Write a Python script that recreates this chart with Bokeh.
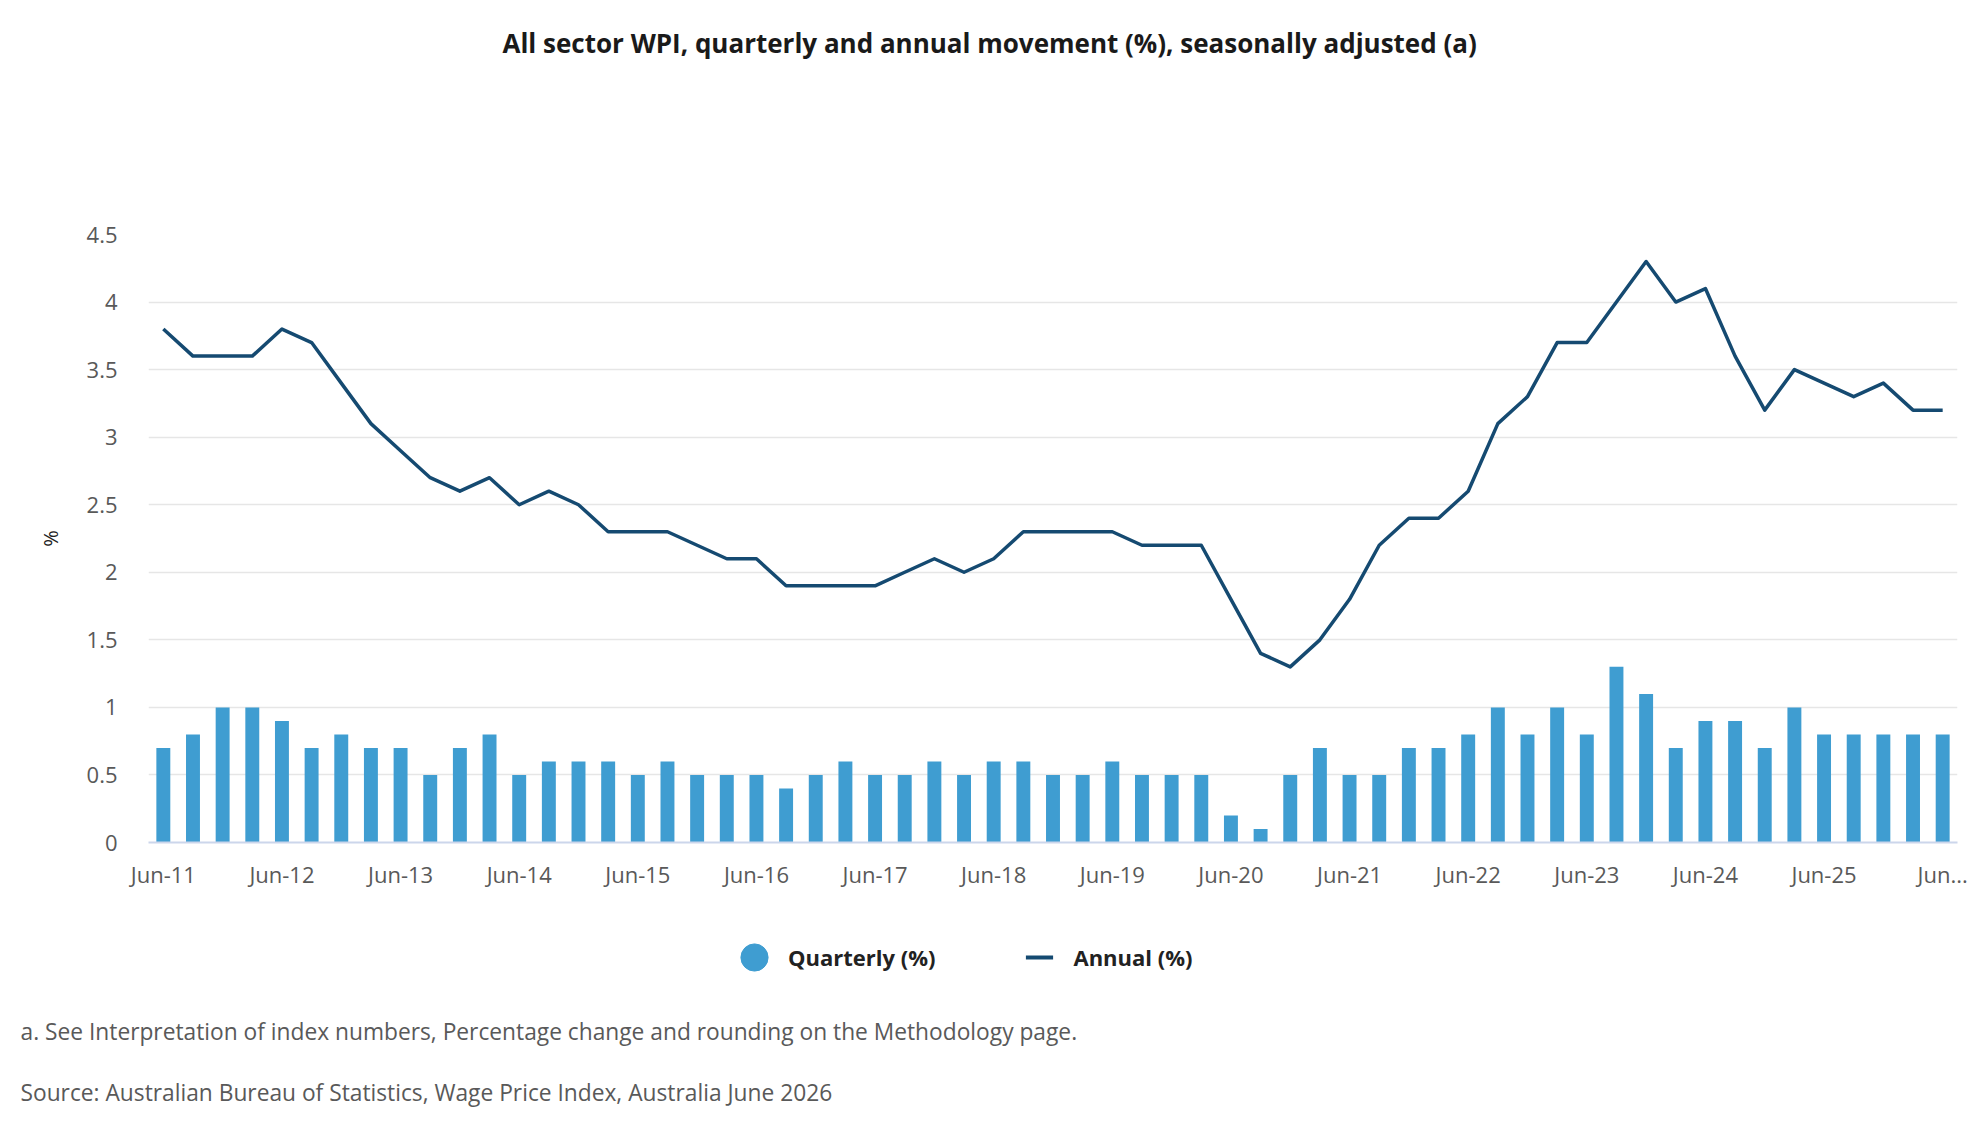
from bokeh.plotting import figure
from bokeh.layouts import column
from bokeh.models import (ColumnDataSource, FixedTicker, Legend, LegendItem, Title,
                          Range1d, NumeralTickFormatter)
from bokeh.embed import file_html
from bokeh.resources import INLINE

quarters = [
    "Jun-11", "Sep-11", "Dec-11", "Mar-12", "Jun-12", "Sep-12", "Dec-12", "Mar-13",
    "Jun-13", "Sep-13", "Dec-13", "Mar-14", "Jun-14", "Sep-14", "Dec-14", "Mar-15",
    "Jun-15", "Sep-15", "Dec-15", "Mar-16", "Jun-16", "Sep-16", "Dec-16", "Mar-17",
    "Jun-17", "Sep-17", "Dec-17", "Mar-18", "Jun-18", "Sep-18", "Dec-18", "Mar-19",
    "Jun-19", "Sep-19", "Dec-19", "Mar-20", "Jun-20", "Sep-20", "Dec-20", "Mar-21",
    "Jun-21", "Sep-21", "Dec-21", "Mar-22", "Jun-22", "Sep-22", "Dec-22", "Mar-23",
    "Jun-23", "Sep-23", "Dec-23", "Mar-24", "Jun-24", "Sep-24", "Dec-24", "Mar-25",
    "Jun-25", "Sep-25", "Dec-25", "Mar-26", "Jun-26",
]

quarterly = [
    0.7, 0.8, 1.0, 1.0, 0.9, 0.7, 0.8, 0.7,
    0.7, 0.5, 0.7, 0.8, 0.5, 0.6, 0.6, 0.6,
    0.5, 0.6, 0.5, 0.5, 0.5, 0.4, 0.5, 0.6,
    0.5, 0.5, 0.6, 0.5, 0.6, 0.6, 0.5, 0.5,
    0.6, 0.5, 0.5, 0.5, 0.2, 0.1, 0.5, 0.7,
    0.5, 0.5, 0.7, 0.7, 0.8, 1.0, 0.8, 1.0,
    0.8, 1.3, 1.1, 0.7, 0.9, 0.9, 0.7, 1.0,
    0.8, 0.8, 0.8, 0.8, 0.8,
]

annual = [
    3.8, 3.6, 3.6, 3.6, 3.8, 3.7, 3.4, 3.1,
    2.9, 2.7, 2.6, 2.7, 2.5, 2.6, 2.5, 2.3,
    2.3, 2.3, 2.2, 2.1, 2.1, 1.9, 1.9, 1.9,
    1.9, 2.0, 2.1, 2.0, 2.1, 2.3, 2.3, 2.3,
    2.3, 2.2, 2.2, 2.2, 1.8, 1.4, 1.3, 1.5,
    1.8, 2.2, 2.4, 2.4, 2.6, 3.1, 3.3, 3.7,
    3.7, 4.0, 4.3, 4.0, 4.1, 3.6, 3.2, 3.5,
    3.4, 3.3, 3.4, 3.2, 3.2,
]

tick_labels = ["Jun-11", "Jun-12", "Jun-13", "Jun-14", "Jun-15", "Jun-16", "Jun-17",
               "Jun-18", "Jun-19", "Jun-20", "Jun-21", "Jun-22", "Jun-23", "Jun-24",
               "Jun-25", "Jun..."]
y_ticks = [0, 0.5, 1, 1.5, 2, 2.5, 3, 3.5, 4, 4.5]

TITLE = "All sector WPI, quarterly and annual movement (%), seasonally adjusted (a)"
NOTE = "a. See Interpretation of index numbers, Percentage change and rounding on the Methodology page."
SOURCE = "Source: Australian Bureau of Statistics, Wage Price Index, Australia June 2026"

BAR = "#3f9dd1"
LINE = "#154a71"
FONT = "Open Sans"
GREY = "#595959"

# layout (pixels, page coordinates)
W, H = 1980, 1140
FL, FR, FT, FB = 148, 1957, 234, 842     # chart frame edges
H1 = 905                                 # height of the chart figure
H2 = H - H1                              # height of the legend / notes strip
NOTES_H = 127                            # notes panel height in the strip
GLYPH = 68                               # legend glyph box

n = len(quarters)
x = list(range(n))
src = ColumnDataSource(dict(x=x, quarter=quarters, quarterly=quarterly, annual=annual))

p = figure(width=W, height=H1, output_backend="svg", toolbar_location=None,
           frame_width=FR - FL, frame_height=FB - FT,
           x_range=Range1d(-0.5, n - 0.5), y_range=Range1d(0, 4.5),
           min_border_left=FL, min_border_right=W - FR, min_border_top=FT,
           min_border_bottom=H1 - FB)
p.outline_line_color = None
p.background_fill_color = "white"
p.border_fill_color = "white"

p.vbar(x="x", top="quarterly", width=0.47, source=src, fill_color=BAR, line_color=None)
p.line(x="x", y="annual", source=src, line_color=LINE, line_width=3.5, line_join="round")

# axes
tick_pos = [quarters.index(l) if l in quarters else n - 1 for l in tick_labels]
p.xaxis.ticker = FixedTicker(ticks=tick_pos)
p.xaxis.major_label_overrides = {pos: lab for pos, lab in zip(tick_pos, tick_labels)}
p.xaxis.axis_line_color = "#ccd6eb"
p.xaxis.axis_line_width = 2
p.xaxis.major_tick_line_color = None
p.xaxis.major_tick_out = 0
p.xaxis.major_tick_in = 0
p.xaxis.minor_tick_line_color = None
p.xaxis.major_label_standoff = 16
p.xaxis.major_label_text_font = FONT
p.xaxis.major_label_text_font_size = "22px"
p.xaxis.major_label_text_color = GREY

p.yaxis.ticker = FixedTicker(ticks=y_ticks)
p.yaxis.formatter = NumeralTickFormatter(format="0.[0]")
p.yaxis.axis_line_color = None
p.yaxis.major_tick_line_color = None
p.yaxis.major_tick_out = 0
p.yaxis.major_tick_in = 0
p.yaxis.minor_tick_line_color = None
p.yaxis.major_label_standoff = 31
p.yaxis.major_label_text_font = FONT
p.yaxis.major_label_text_font_size = "22px"
p.yaxis.major_label_text_color = GREY
p.yaxis.axis_label = "%"
p.yaxis.axis_label_standoff = 20
p.yaxis.axis_label_text_font = FONT
p.yaxis.axis_label_text_font_size = "20px"
p.yaxis.axis_label_text_font_style = "normal"
p.yaxis.axis_label_text_color = "#222222"

p.xgrid.visible = False
p.ygrid.ticker = FixedTicker(ticks=y_ticks)
p.ygrid.grid_line_color = "#e6e6e6"
p.ygrid.grid_line_width = 1.4

# title: the plot title is stacked outermost; a blank spacer title sits next to the frame
p.title.text = TITLE
p.title.align = "left"
p.title.offset = 354
p.title.standoff = 0
p.title.text_font = FONT
p.title.text_font_size = "26px"
p.title.text_font_style = "bold"
p.title.text_color = "#1a1a1a"
p.add_layout(Title(text=" ", text_font_size="10px", standoff=161), "above")

# legend + notes strip
q = figure(width=W, height=H2, output_backend="svg", toolbar_location=None,
           x_range=Range1d(0, 1), y_range=Range1d(0, 1),
           x_axis_location=None, y_axis_location=None,
           min_border_left=FL, min_border_right=W - FR,
           min_border_top=0, min_border_bottom=0)
q.outline_line_color = None
q.xgrid.visible = False
q.ygrid.visible = False
q.background_fill_color = "white"
q.border_fill_color = "white"

# legend swatch renderers (hidden; used only for the legend symbols)
q_sw = q.scatter(x="x", y="quarterly", source=src, marker="circle", size=30,
                 fill_color=BAR, line_color=BAR, visible=False)
a_sw = q.scatter(x="x", y="annual", source=src, marker="dash", size=30,
                 line_color=LINE, line_width=4, visible=False)

frame_bottom_q = H - NOTES_H
legend = Legend(items=[LegendItem(label="Quarterly (%)", renderers=[q_sw]),
                       LegendItem(label="Annual (%)", renderers=[a_sw])],
                orientation="horizontal",
                location=(720 - FL, frame_bottom_q - (957 + GLYPH // 2)),
                glyph_width=GLYPH, glyph_height=GLYPH, label_standoff=0, spacing=70,
                padding=0, margin=0, border_line_color=None,
                background_fill_alpha=0, inactive_fill_alpha=0,
                label_text_font=FONT, label_text_font_style="bold",
                label_text_font_size="22px", label_text_color="#222222")
q.add_layout(legend, "center")

q.add_layout(Title(text=NOTE, align="left", offset=20 - FL, standoff=0,
                   vertical_align="bottom", text_font=FONT, text_font_size="22.75px",
                   text_font_style="normal", text_color=GREY), "below")
q.add_layout(Title(text=SOURCE, align="left", offset=20 - FL, standoff=61,
                   vertical_align="top", text_font=FONT, text_font_size="22.75px",
                   text_font_style="normal", text_color=GREY), "below")

layout = column(p, q, spacing=0)
open("out.html", "w").write(file_html(layout, INLINE))
